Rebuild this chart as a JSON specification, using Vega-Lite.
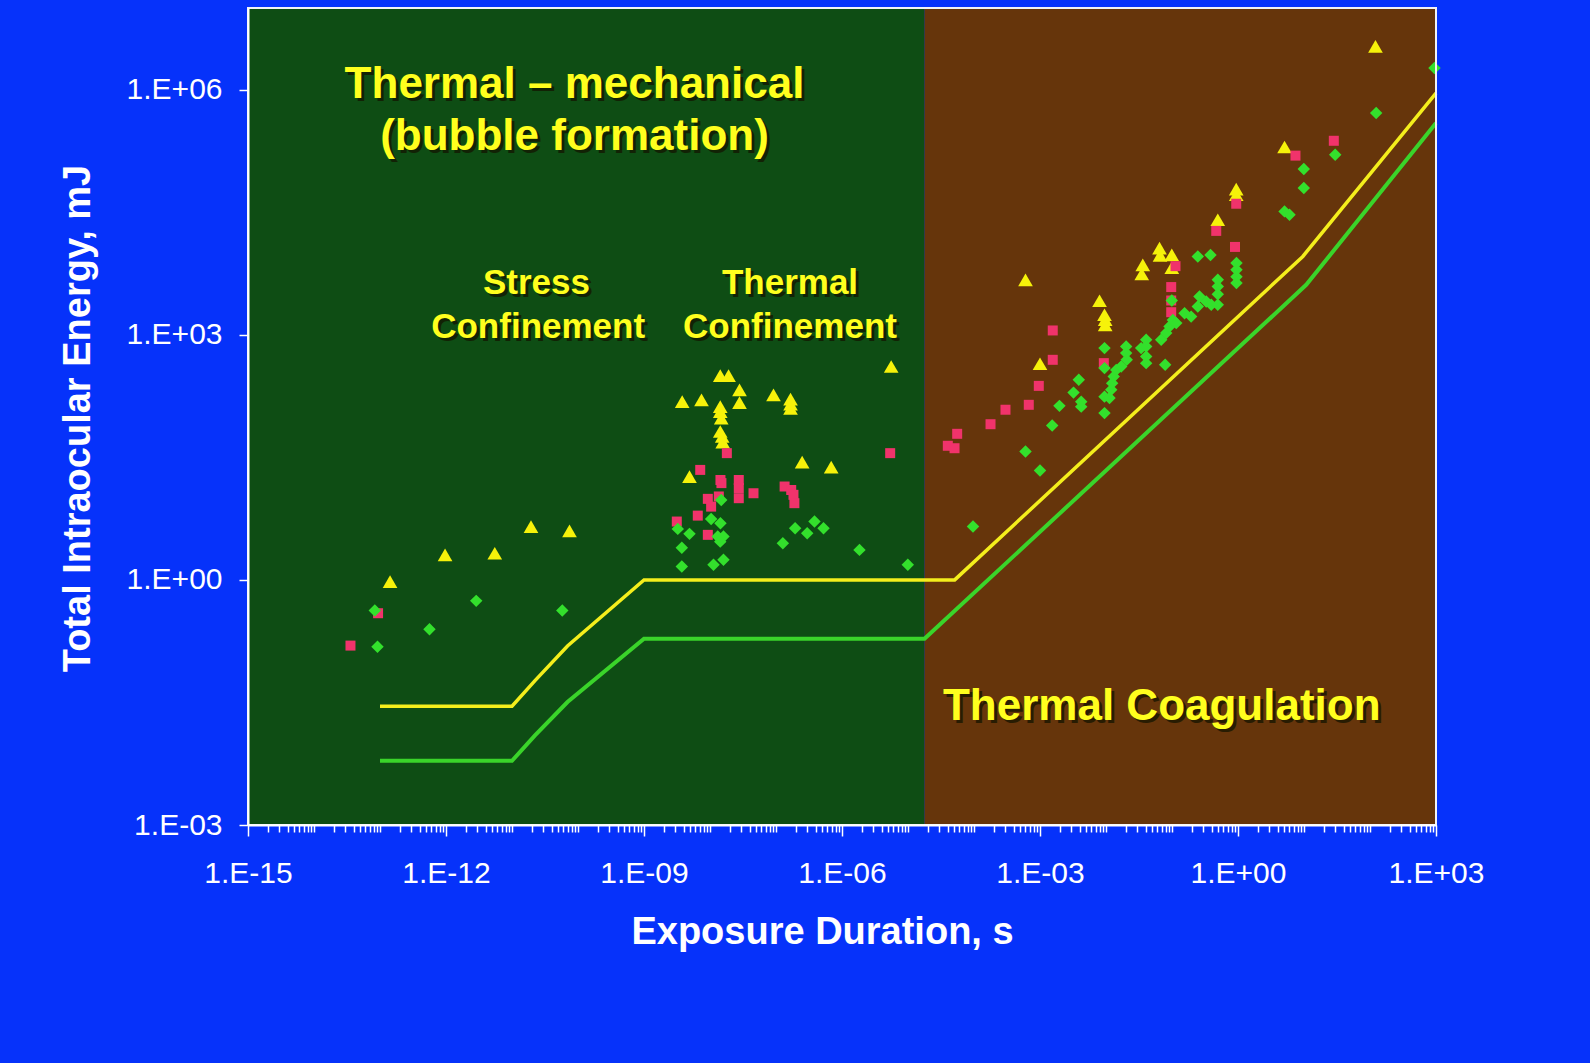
{
  "$schema": "https://vega.github.io/schema/vega-lite/v6.json",
  "autosize": {"type": "none"},
  "width": 1188,
  "height": 817,
  "padding": {"left": 248, "top": 8, "right": 154, "bottom": 238},
  "background": "#0632fa",
  "config": {"view": {"stroke": null}},
  "datasets": {
    "regions": [
      {"region": "mech", "t": 1e-15, "tEnd": 1.78e-5, "e": 0.001, "eEnd": 1e7},
      {"region": "coag", "t": 1.78e-5, "tEnd": 1000, "e": 0.001, "eEnd": 1e7}
    ],
    "frame": [{"t": 1e-15, "tEnd": 1000, "e": 0.001, "eEnd": 1e7}],
    "thresholds": [
      {"curve": "upper", "t": 1e-13, "e": 0.0285},
      {"curve": "upper", "t": 1e-11, "e": 0.0285},
      {"curve": "upper", "t": 2.23e-11, "e": 0.0586},
      {"curve": "upper", "t": 6.93e-11, "e": 0.155},
      {"curve": "upper", "t": 1e-9, "e": 1},
      {"curve": "upper", "t": 5.1e-5, "e": 1},
      {"curve": "upper", "t": 9.6, "e": 9100},
      {"curve": "upper", "t": 1000, "e": 910000},
      {"curve": "lower", "t": 1e-13, "e": 0.0061},
      {"curve": "lower", "t": 1e-11, "e": 0.0061},
      {"curve": "lower", "t": 2.23e-11, "e": 0.0125},
      {"curve": "lower", "t": 6.93e-11, "e": 0.032},
      {"curve": "lower", "t": 1e-9, "e": 0.19},
      {"curve": "lower", "t": 1.78e-5, "e": 0.19},
      {"curve": "lower", "t": 10.8, "e": 4090},
      {"curve": "lower", "t": 1000, "e": 390000}
    ],
    "bigText": [
      {"label": "Thermal – mechanical", "t": 8.85e-11, "e": 790000},
      {"label": "(bubble formation)", "t": 8.85e-11, "e": 184000},
      {"label": "Thermal Coagulation", "t": 0.070, "e": 0.0193}
    ],
    "midText": [
      {"label": "Stress", "t": 2.35e-11, "e": 3150},
      {"label": "Confinement", "t": 2.49e-11, "e": 910},
      {"label": "Thermal", "t": 1.63e-7, "e": 3150},
      {"label": "Confinement", "t": 1.63e-7, "e": 910}
    ],
    "points": [
      {"series": "tri", "t": 1.42e-13, "e": 0.953},
      {"series": "tri", "t": 9.68e-13, "e": 2.02},
      {"series": "tri", "t": 5.48e-12, "e": 2.12},
      {"series": "tri", "t": 1.94e-11, "e": 4.5},
      {"series": "tri", "t": 7.43e-11, "e": 3.98},
      {"series": "tri", "t": 5.56e-6, "e": 409},
      {"series": "tri", "t": 1.43e-8, "e": 317},
      {"series": "tri", "t": 1.91e-8, "e": 317},
      {"series": "tri", "t": 2.8e-8, "e": 212},
      {"series": "tri", "t": 3.79e-9, "e": 152},
      {"series": "tri", "t": 7.43e-9, "e": 160},
      {"series": "tri", "t": 2.8e-8, "e": 148},
      {"series": "tri", "t": 9.16e-8, "e": 184},
      {"series": "tri", "t": 1.66e-7, "e": 163},
      {"series": "tri", "t": 1.66e-7, "e": 142},
      {"series": "tri", "t": 1.66e-7, "e": 126},
      {"series": "tri", "t": 1.43e-8, "e": 132},
      {"series": "tri", "t": 1.43e-8, "e": 115},
      {"series": "tri", "t": 1.48e-8, "e": 95.5},
      {"series": "tri", "t": 1.43e-8, "e": 65.5},
      {"series": "tri", "t": 1.53e-8, "e": 56.9},
      {"series": "tri", "t": 1.56e-8, "e": 48.5},
      {"series": "tri", "t": 2.49e-7, "e": 27.6},
      {"series": "tri", "t": 6.86e-7, "e": 24.0},
      {"series": "tri", "t": 4.89e-9, "e": 18.4},
      {"series": "tri", "t": 6.03e-4, "e": 4710},
      {"series": "tri", "t": 1.0e-3, "e": 442},
      {"series": "tri", "t": 7.98e-3, "e": 2610},
      {"series": "tri", "t": 9.49e-3, "e": 1760},
      {"series": "tri", "t": 9.72e-3, "e": 1530},
      {"series": "tri", "t": 9.72e-3, "e": 1320},
      {"series": "tri", "t": 0.0361, "e": 7190},
      {"series": "tri", "t": 0.0348, "e": 5550},
      {"series": "tri", "t": 0.0647, "e": 11500},
      {"series": "tri", "t": 0.0658, "e": 9400},
      {"series": "tri", "t": 0.0993, "e": 9530},
      {"series": "tri", "t": 0.0993, "e": 6650},
      {"series": "tri", "t": 0.494, "e": 25600},
      {"series": "tri", "t": 0.94, "e": 60800},
      {"series": "tri", "t": 0.94, "e": 51800},
      {"series": "tri", "t": 5.07, "e": 199000},
      {"series": "tri", "t": 121, "e": 3390000},
      {"series": "sq", "t": 3.57e-14, "e": 0.157},
      {"series": "sq", "t": 9.35e-14, "e": 0.391},
      {"series": "sq", "t": 1.8e-8, "e": 35.6},
      {"series": "sq", "t": 5.37e-6, "e": 35.6},
      {"series": "sq", "t": 7.11e-9, "e": 22.2},
      {"series": "sq", "t": 1.44e-8, "e": 16.7},
      {"series": "sq", "t": 1.49e-8, "e": 15.3},
      {"series": "sq", "t": 2.73e-8, "e": 16.7},
      {"series": "sq", "t": 2.73e-8, "e": 13.3},
      {"series": "sq", "t": 2.73e-8, "e": 10.0},
      {"series": "sq", "t": 4.56e-8, "e": 11.5},
      {"series": "sq", "t": 1.35e-7, "e": 13.9},
      {"series": "sq", "t": 1.7e-7, "e": 12.6},
      {"series": "sq", "t": 1.84e-7, "e": 11.0},
      {"series": "sq", "t": 1.9e-7, "e": 8.69},
      {"series": "sq", "t": 9.27e-9, "e": 9.82},
      {"series": "sq", "t": 1.04e-8, "e": 7.89},
      {"series": "sq", "t": 1.36e-8, "e": 10.5},
      {"series": "sq", "t": 6.53e-9, "e": 6.12},
      {"series": "sq", "t": 3.14e-9, "e": 5.18},
      {"series": "sq", "t": 9.27e-9, "e": 3.56},
      {"series": "sq", "t": 4.01e-5, "e": 43.8},
      {"series": "sq", "t": 5.07e-5, "e": 40.9},
      {"series": "sq", "t": 5.56e-5, "e": 61.4},
      {"series": "sq", "t": 1.78e-4, "e": 80.5},
      {"series": "sq", "t": 3.0e-4, "e": 121},
      {"series": "sq", "t": 6.76e-4, "e": 139},
      {"series": "sq", "t": 9.59e-4, "e": 237},
      {"series": "sq", "t": 1.56e-3, "e": 494},
      {"series": "sq", "t": 1.56e-3, "e": 1130},
      {"series": "sq", "t": 9.27e-3, "e": 450},
      {"series": "sq", "t": 0.0973, "e": 3840},
      {"series": "sq", "t": 0.0973, "e": 2630},
      {"series": "sq", "t": 0.0973, "e": 1890},
      {"series": "sq", "t": 0.113, "e": 6920},
      {"series": "sq", "t": 0.468, "e": 18700},
      {"series": "sq", "t": 0.90, "e": 11900},
      {"series": "sq", "t": 0.94, "e": 40200},
      {"series": "sq", "t": 7.43, "e": 156000},
      {"series": "sq", "t": 28.3, "e": 237000},
      {"series": "dia", "t": 8.34e-14, "e": 0.421},
      {"series": "dia", "t": 9.16e-14, "e": 0.152},
      {"series": "dia", "t": 5.62e-13, "e": 0.249},
      {"series": "dia", "t": 2.87e-12, "e": 0.554},
      {"series": "dia", "t": 5.78e-11, "e": 0.421},
      {"series": "dia", "t": 1.48e-8, "e": 9.53},
      {"series": "dia", "t": 1.04e-8, "e": 5.58},
      {"series": "dia", "t": 1.44e-8, "e": 4.94},
      {"series": "dia", "t": 3.25e-9, "e": 4.21},
      {"series": "dia", "t": 4.89e-9, "e": 3.66},
      {"series": "dia", "t": 1.31e-8, "e": 3.39},
      {"series": "dia", "t": 1.6e-8, "e": 3.39},
      {"series": "dia", "t": 1.43e-8, "e": 2.94},
      {"series": "dia", "t": 3.74e-9, "e": 2.48},
      {"series": "dia", "t": 3.74e-9, "e": 1.46},
      {"series": "dia", "t": 1.13e-8, "e": 1.53},
      {"series": "dia", "t": 1.6e-8, "e": 1.76},
      {"series": "dia", "t": 1.95e-7, "e": 4.29},
      {"series": "dia", "t": 2.97e-7, "e": 3.73},
      {"series": "dia", "t": 3.83e-7, "e": 5.18},
      {"series": "dia", "t": 5.25e-7, "e": 4.29},
      {"series": "dia", "t": 1.27e-7, "e": 2.81},
      {"series": "dia", "t": 1.84e-6, "e": 2.33},
      {"series": "dia", "t": 9.93e-6, "e": 1.53},
      {"series": "dia", "t": 9.66e-5, "e": 4.5},
      {"series": "dia", "t": 6.03e-4, "e": 37.2},
      {"series": "dia", "t": 1.0e-3, "e": 21.8},
      {"series": "dia", "t": 1.53e-3, "e": 77.4},
      {"series": "dia", "t": 1.97e-3, "e": 135},
      {"series": "dia", "t": 3.22e-3, "e": 196},
      {"series": "dia", "t": 3.87e-3, "e": 281},
      {"series": "dia", "t": 4.21e-3, "e": 152},
      {"series": "dia", "t": 4.21e-3, "e": 132},
      {"series": "dia", "t": 9.49e-3, "e": 687},
      {"series": "dia", "t": 9.49e-3, "e": 391},
      {"series": "dia", "t": 9.49e-3, "e": 175},
      {"series": "dia", "t": 9.49e-3, "e": 110},
      {"series": "dia", "t": 0.0113, "e": 168},
      {"series": "dia", "t": 0.0120, "e": 212},
      {"series": "dia", "t": 0.0124, "e": 256},
      {"series": "dia", "t": 0.0131, "e": 308},
      {"series": "dia", "t": 0.0143, "e": 372},
      {"series": "dia", "t": 0.017, "e": 409},
      {"series": "dia", "t": 0.0202, "e": 719},
      {"series": "dia", "t": 0.0202, "e": 597},
      {"series": "dia", "t": 0.0206, "e": 494},
      {"series": "dia", "t": 0.0341, "e": 687},
      {"series": "dia", "t": 0.0406, "e": 869},
      {"series": "dia", "t": 0.0406, "e": 719},
      {"series": "dia", "t": 0.0406, "e": 542},
      {"series": "dia", "t": 0.0406, "e": 450},
      {"series": "dia", "t": 0.0788, "e": 429},
      {"series": "dia", "t": 0.0686, "e": 869},
      {"series": "dia", "t": 0.0817, "e": 1050},
      {"series": "dia", "t": 0.0917, "e": 1260},
      {"series": "dia", "t": 0.103, "e": 1520},
      {"series": "dia", "t": 0.116, "e": 1390},
      {"series": "dia", "t": 0.0993, "e": 2630},
      {"series": "dia", "t": 0.155, "e": 1840},
      {"series": "dia", "t": 0.195, "e": 1670},
      {"series": "dia", "t": 0.261, "e": 2940},
      {"series": "dia", "t": 0.330, "e": 2560},
      {"series": "dia", "t": 0.393, "e": 2330},
      {"series": "dia", "t": 0.494, "e": 4710},
      {"series": "dia", "t": 0.494, "e": 3900},
      {"series": "dia", "t": 0.494, "e": 3130},
      {"series": "dia", "t": 0.494, "e": 2330},
      {"series": "dia", "t": 0.246, "e": 9100},
      {"series": "dia", "t": 0.383, "e": 9460},
      {"series": "dia", "t": 0.948, "e": 7550},
      {"series": "dia", "t": 0.948, "e": 6250},
      {"series": "dia", "t": 0.948, "e": 5130},
      {"series": "dia", "t": 0.948, "e": 4300},
      {"series": "dia", "t": 5.07, "e": 32400},
      {"series": "dia", "t": 6.03, "e": 29400},
      {"series": "dia", "t": 9.93, "e": 107000},
      {"series": "dia", "t": 9.93, "e": 62500},
      {"series": "dia", "t": 29.7, "e": 160000},
      {"series": "dia", "t": 124, "e": 518000},
      {"series": "dia", "t": 948, "e": 1840000},
      {"series": "dia", "t": 0.246, "e": 2220}
    ]
  },
  "encoding": {
    "x": {
      "field": "t",
      "type": "quantitative",
      "scale": {"type": "log", "domain": [1e-15, 1000], "nice": false},
      "axis": {
        "values": [1e-15,2e-15,3e-15,4e-15,5e-15,6e-15,7e-15,8e-15,9e-15,
                   1e-14,2e-14,3e-14,4e-14,5e-14,6e-14,7e-14,8e-14,9e-14,
                   1e-13,2e-13,3e-13,4e-13,5e-13,6e-13,7e-13,8e-13,9e-13,
                   1e-12,2e-12,3e-12,4e-12,5e-12,6e-12,7e-12,8e-12,9e-12,
                   1e-11,2e-11,3e-11,4e-11,5e-11,6e-11,7e-11,8e-11,9e-11,
                   1e-10,2e-10,3e-10,4e-10,5e-10,6e-10,7e-10,8e-10,9e-10,
                   1e-9,2e-9,3e-9,4e-9,5e-9,6e-9,7e-9,8e-9,9e-9,
                   1e-8,2e-8,3e-8,4e-8,5e-8,6e-8,7e-8,8e-8,9e-8,
                   1e-7,2e-7,3e-7,4e-7,5e-7,6e-7,7e-7,8e-7,9e-7,
                   1e-6,2e-6,3e-6,4e-6,5e-6,6e-6,7e-6,8e-6,9e-6,
                   1e-5,2e-5,3e-5,4e-5,5e-5,6e-5,7e-5,8e-5,9e-5,
                   1e-4,2e-4,3e-4,4e-4,5e-4,6e-4,7e-4,8e-4,9e-4,
                   1e-3,2e-3,3e-3,4e-3,5e-3,6e-3,7e-3,8e-3,9e-3,
                   0.01,0.02,0.03,0.04,0.05,0.06,0.07,0.08,0.09,
                   0.1,0.2,0.3,0.4,0.5,0.6,0.7,0.8,0.9,
                   1,2,3,4,5,6,7,8,9,
                   10,20,30,40,50,60,70,80,90,
                   100,200,300,400,500,600,700,800,900,
                   1000],
        "labelExpr": "abs(log(datum.value)/LN10 - round(log(datum.value)/LN10)) < 0.01 && round(log(datum.value)/LN10) % 3 == 0 ? '1.E' + (round(log(datum.value)/LN10) < 0 ? '-' : '+') + (abs(round(log(datum.value)/LN10)) < 10 ? '0' : '') + abs(round(log(datum.value)/LN10)) : ''",
        "labelFont": "Liberation Sans",
        "labelFontSize": 30,
        "labelColor": "#ffffff",
        "labelBaseline": "alphabetic",
        "labelPadding": 46,
        "labelOverlap": false,
        "labelFlush": false,
        "labelBound": false,
        "tickColor": "#ffffff",
        "tickWidth": 1.5,
        "tickSize": {"condition": {"test": "abs(log(datum.value)/LN10 - round(log(datum.value)/LN10)) < 0.01 && round(log(datum.value)/LN10) % 3 == 0", "value": 11}, "value": 7},
        "domainColor": "#ffffff",
        "domainWidth": 2,
        "grid": false,
        "title": "Exposure Duration, s",
        "titleFont": "Liberation Sans",
        "titleFontSize": 38,
        "titleFontWeight": "bold",
        "titleColor": "#ffffff",
        "titleX": 574,
        "titleY": 118,
        "titleAlign": "center",
        "titleBaseline": "alphabetic",
        "zindex": 1
      }
    },
    "y": {
      "field": "e",
      "type": "quantitative",
      "scale": {"type": "log", "domain": [0.001, 10000000], "nice": false},
      "axis": {
        "values": [0.001, 1, 1000, 1000000],
        "labelExpr": "'1.E' + (round(log(datum.value)/LN10) < 0 ? '-' : '+') + (abs(round(log(datum.value)/LN10)) < 10 ? '0' : '') + abs(round(log(datum.value)/LN10))",
        "labelFont": "Liberation Sans",
        "labelFontSize": 30,
        "labelColor": "#ffffff",
        "labelBaseline": "middle",
        "labelPadding": 17,
        "labelOverlap": false,
        "labelFlush": false,
        "labelBound": false,
        "tickColor": "#ffffff",
        "tickWidth": 1.5,
        "tickSize": 9,
        "domainColor": "#ffffff",
        "domainWidth": 2,
        "grid": false,
        "title": "Total Intraocular Energy, mJ",
        "titleFont": "Liberation Sans",
        "titleFontSize": 38,
        "titleFontWeight": "bold",
        "titleColor": "#ffffff",
        "titleAngle": 270,
        "titleX": -159,
        "titleY": 410,
        "titleAlign": "center",
        "titleBaseline": "alphabetic",
        "zindex": 1
      }
    }
  },
  "layer": [
    {
      "data": {"name": "regions"},
      "transform": [{"filter": "datum.region == 'mech'"}],
      "mark": {"type": "rect", "color": "#0e4d14"},
      "encoding": {"x2": {"field": "tEnd"}, "y2": {"field": "eEnd"}}
    },
    {
      "data": {"name": "regions"},
      "transform": [{"filter": "datum.region == 'coag'"}],
      "mark": {"type": "rect", "color": "#66350b"},
      "encoding": {"x2": {"field": "tEnd"}, "y2": {"field": "eEnd"}}
    },
    {
      "data": {"name": "thresholds"},
      "transform": [{"filter": "datum.curve == 'lower'"}],
      "mark": {"type": "line", "color": "#3ad42a", "strokeWidth": 4},
      "encoding": {}
    },
    {
      "data": {"name": "thresholds"},
      "transform": [{"filter": "datum.curve == 'upper'"}],
      "mark": {"type": "line", "color": "#f4ee1c", "strokeWidth": 3.5},
      "encoding": {}
    },
    {
      "data": {"name": "points"},
      "transform": [{"filter": "datum.series == 'tri'"}],
      "mark": {"type": "point", "shape": "triangle-up", "filled": true, "size": 215, "color": "#f6f20a", "opacity": 1},
      "encoding": {}
    },
    {
      "data": {"name": "points"},
      "transform": [{"filter": "datum.series == 'sq'"}],
      "mark": {"type": "point", "shape": "square", "filled": true, "size": 100, "color": "#f0336b", "opacity": 1},
      "encoding": {}
    },
    {
      "data": {"name": "points"},
      "transform": [{"filter": "datum.series == 'dia'"}],
      "mark": {"type": "point", "shape": "diamond", "filled": true, "size": 155, "color": "#33e02c", "opacity": 1},
      "encoding": {}
    },
    {
      "data": {"name": "bigText"},
      "mark": {"type": "text", "font": "Liberation Sans", "fontSize": 44, "fontWeight": "bold", "align": "center", "baseline": "alphabetic", "dx": 3, "dy": 3, "color": "#141400", "opacity": 0.75},
      "encoding": {"text": {"field": "label"}}
    },
    {
      "data": {"name": "bigText"},
      "mark": {"type": "text", "font": "Liberation Sans", "fontSize": 44, "fontWeight": "bold", "align": "center", "baseline": "alphabetic", "color": "#ffff1e"},
      "encoding": {"text": {"field": "label"}}
    },
    {
      "data": {"name": "midText"},
      "mark": {"type": "text", "font": "Liberation Sans", "fontSize": 35, "fontWeight": "bold", "align": "center", "baseline": "alphabetic", "dx": 3, "dy": 3, "color": "#141400", "opacity": 0.75},
      "encoding": {"text": {"field": "label"}}
    },
    {
      "data": {"name": "midText"},
      "mark": {"type": "text", "font": "Liberation Sans", "fontSize": 35, "fontWeight": "bold", "align": "center", "baseline": "alphabetic", "color": "#ffff1e"},
      "encoding": {"text": {"field": "label"}}
    },
    {
      "data": {"name": "frame"},
      "mark": {"type": "rect", "filled": false, "stroke": "#f2f2f6", "strokeWidth": 2},
      "encoding": {"x2": {"field": "tEnd"}, "y2": {"field": "eEnd"}}
    }
  ]
}
